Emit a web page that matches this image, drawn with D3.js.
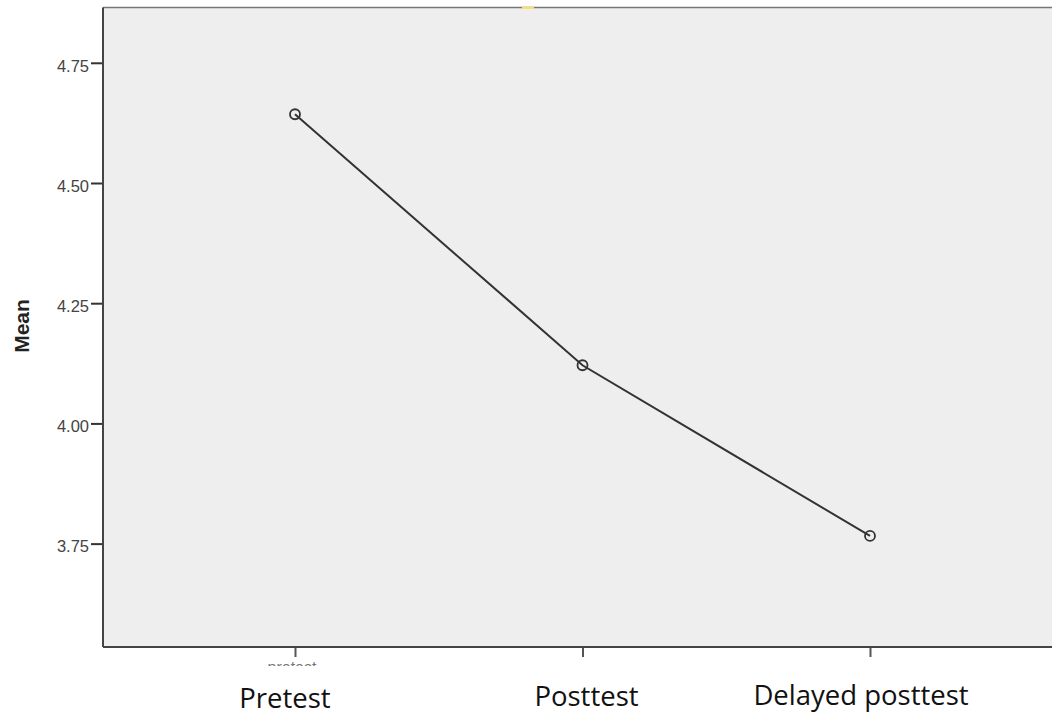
<!DOCTYPE html>
<html><head><meta charset="utf-8">
<script src="https://cdn.jsdelivr.net/npm/d3@7"></script>
<style>body{margin:0;background:#fff}svg{display:block}</style>
</head><body>
<script>
const categories = ["Pretest", "Posttest", "Delayed posttest"];
const means = [4.643, 4.121, 3.766];
const yTicks = [3.75, 4.00, 4.25, 4.50, 4.75];

const W = 1052, H = 715;
const svg = d3.select("body").append("svg").attr("width", W).attr("height", H);

const plotL = 103, plotR = 1052, plotT = 7.5, plotB = 647;
const y = d3.scaleLinear().domain([3.535, 4.865]).range([plotB, plotT]);
const x = d3.scalePoint().domain(categories).range([295, 870]);

svg.append("rect").attr("x", plotL).attr("y", plotT).attr("width", plotR - plotL).attr("height", plotB - plotT)
  .attr("fill", "#eeeeee");
// top border
svg.append("line").attr("x1", plotL).attr("x2", plotR).attr("y1", plotT).attr("y2", plotT)
  .attr("stroke", "#777").attr("stroke-width", 1.5);
svg.append("rect").attr("x", 522).attr("y", 6).attr("width", 12).attr("height", 3).attr("fill", "#f3dc8c");

// y axis
const ya = svg.append("g").attr("transform", `translate(${plotL},0)`)
  .call(d3.axisLeft(y).tickValues(yTicks).tickFormat(d3.format(".2f")).tickSize(12).tickSizeOuter(0));
ya.select(".domain").remove();
ya.selectAll(".tick line").attr("stroke", "#333").attr("stroke-width", 2);
ya.selectAll(".tick text").attr("font-family", "Liberation Sans, Arial, sans-serif").attr("font-size", 16.5)
  .attr("fill", "#444").attr("x", -14).attr("dy", "0.5em");
svg.append("line").attr("x1", plotL).attr("x2", plotL).attr("y1", plotT).attr("y2", plotB)
  .attr("stroke", "#444").attr("stroke-width", 2);

// x axis
const xa = svg.append("g").attr("transform", `translate(0,${plotB})`)
  .call(d3.axisBottom(x).tickSize(10).tickFormat("").tickSizeOuter(0));
xa.select(".domain").remove();
xa.selectAll(".tick line").attr("stroke", "#555").attr("stroke-width", 2);
svg.append("line").attr("x1", plotL).attr("x2", plotR).attr("y1", plotB).attr("y2", plotB)
  .attr("stroke", "#444").attr("stroke-width", 2);

// clipped remnant of original axis label
svg.append("clipPath").attr("id", "remn").append("rect").attr("x", 250).attr("y", 661).attr("width", 90).attr("height", 5);
svg.append("text").attr("clip-path", "url(#remn)").attr("x", x(categories[0]) - 3).attr("y", 673)
  .attr("text-anchor", "middle").attr("font-family", "Liberation Sans, Arial, sans-serif")
  .attr("font-size", 16).attr("fill", "#777").text("pretest");

// category labels
const labY = [708, 706, 705];
const labDx = [-10, 4, -9];
svg.selectAll("text.cat").data(categories).enter().append("text").attr("class", "cat")
  .attr("x", (d, i) => x(d) + labDx[i]).attr("y", (d, i) => labY[i])
  .attr("text-anchor", "middle").attr("font-family", "Open Sans, Lato, sans-serif")
  .attr("font-size", 27.5).attr("fill", "#111").text(d => d);

// y label
svg.append("text").attr("transform", "translate(29,326) rotate(-90)").attr("text-anchor", "middle")
  .attr("font-family", "Liberation Sans, Arial, sans-serif").attr("font-weight", "bold")
  .attr("font-size", 21).attr("fill", "#222").text("Mean");

// line
const line = d3.line().x((d, i) => x(categories[i])).y(d => y(d));
svg.append("path").datum(means).attr("d", line).attr("fill", "none")
  .attr("stroke", "#333").attr("stroke-width", 2);
svg.selectAll("circle.pt").data(means).enter().append("circle").attr("class", "pt")
  .attr("cx", (d, i) => x(categories[i])).attr("cy", d => y(d)).attr("r", 5)
  .attr("fill", "none").attr("stroke", "#333").attr("stroke-width", 1.8);
</script>
</body></html>
